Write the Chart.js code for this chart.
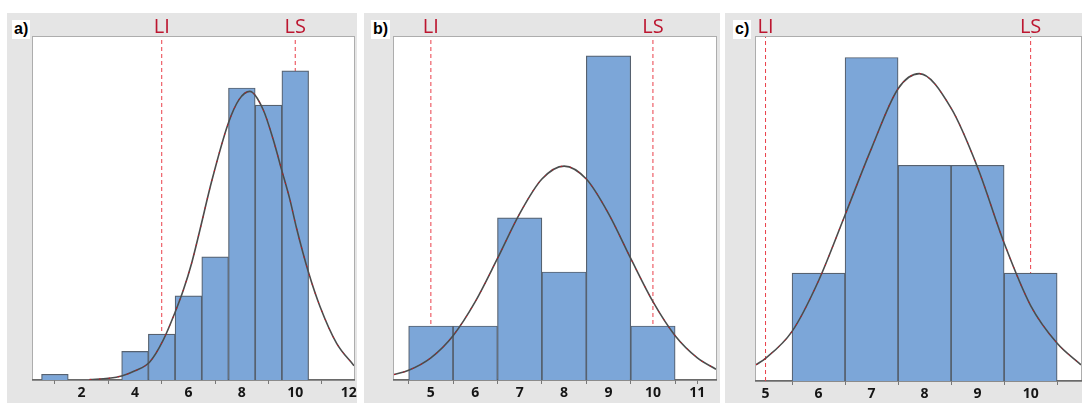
<!DOCTYPE html>
<html>
<head>
<meta charset="utf-8">
<script src="https://cdn.jsdelivr.net/npm/chart.js@4.4.0/dist/chart.umd.min.js"></script>
<style>
  body { margin:0; background:#fff; width:1082px; height:403px; position:relative; overflow:hidden; }
  .panel { position:absolute; top:13px; height:390px; background:#e5e5e5; }
  .panel canvas { position:absolute; left:0; top:0; }
  .tag { position:absolute; top:7px; height:19px; line-height:19px; padding:0 2px; background:#fff; color:#000;
         font:bold 16px "Liberation Sans", Arial, sans-serif; }
</style>
</head>
<body>
<div class="panel" style="left:7px;width:350px"><canvas id="chartA" width="350" height="390"></canvas><div class="tag" style="left:5px">a)</div></div>
<div class="panel" style="left:364px;width:356px"><canvas id="chartB" width="356" height="390"></canvas><div class="tag" style="left:7px">b)</div></div>
<div class="panel" style="left:725px;width:357px"><canvas id="chartC" width="357" height="390"></canvas><div class="tag" style="left:8px">c)</div></div>
<script>
// Spec limits (same for all three)
const specValues = [5, 10];
const specNames = ['LI', 'LS'];

// a) histogram + fitted curve
const binsA = [1, 2, 3, 4, 5, 6, 7, 8, 9, 10];
const countsA = [1, 0, 0, 5, 8, 14.7, 21.5, 51, 48, 54];
const fitXA = [2.3, 3.0, 3.5, 4.0, 4.56, 5.06, 5.49, 5.81, 6.12, 6.43, 6.87, 7.49, 7.9, 8.3, 8.8, 9.18, 9.49, 9.8, 10.05, 10.49, 10.93, 11.55, 12.2];
const fitYA = [0.07, 0.3, 0.7, 1.6, 3.2, 7.0, 11.7, 15.7, 20.4, 26.2, 34.7, 44.8, 49.0, 50.4, 47.2, 41.9, 36.7, 31.5, 26.5, 18.9, 12.8, 6.4, 2.5];
const labelsA = [2, 4, 6, 8, 10, 12];
const marksA = [1, 3, 5, 7, 9, 11];

// b)
const binsB = [5, 6, 7, 8, 9, 10];
const countsB = [1, 1, 3, 2, 6, 1];
const fitXB = [4.17, 4.5, 5, 5.5, 6, 6.5, 7, 7.5, 8, 8.5, 9, 9.5, 10, 10.5, 11, 11.42];
const fitYB = [0.1, 0.18, 0.41, 0.82, 1.45, 2.25, 3.08, 3.72, 3.96, 3.72, 3.08, 2.25, 1.45, 0.82, 0.41, 0.2];
const labelsB = [5, 6, 7, 8, 9, 10, 11];
const marksB = [4.5, 5.5, 6.5, 7.5, 8.5, 9.5, 10.5, 11];

// c)
const binsC = [6, 7, 8, 9, 10];
const countsC = [1, 3, 2, 2, 1];
const fitXC = [4.82, 5, 5.5, 6, 6.5, 7, 7.5, 7.9, 8.5, 9, 9.5, 10, 10.5, 10.95];
const fitYC = [0.15, 0.21, 0.46, 0.93, 1.54, 2.16, 2.71, 2.85, 2.53, 1.98, 1.28, 0.7, 0.35, 0.15];
const labelsC = [5, 6, 7, 8, 9, 10];
const marksC = [5.5, 6.5, 7.5, 8.5, 9.5, 10.5];

// white plot box + LI / LS captions
const frame = {
  id: 'frame',
  beforeDraw(chart) {
    const a = chart.chartArea, ctx = chart.ctx;
    ctx.save();
    ctx.fillStyle = '#fff';
    ctx.fillRect(a.left, a.top, a.right - a.left, a.bottom - a.top);
    ctx.strokeStyle = '#adadad';
    ctx.lineWidth = 1;
    ctx.strokeRect(a.left - 0.5, a.top - 0.5, a.right - a.left + 1, a.bottom - a.top + 1);
    ctx.restore();
  },
  afterDraw(chart) {
    const x = chart.scales.x, ctx = chart.ctx;
    ctx.save();
    ctx.fillStyle = '#bc1630';
    ctx.font = '20px "Open Sans"';
    ctx.textAlign = 'center';
    specValues.forEach(function(v, i) {
      ctx.fillText(specNames[i], x.getPixelForValue(v), chart.chartArea.top - 4);
    });
    ctx.restore();
  }
};

function makeHist(id, bins, counts, fitX, fitY, labels, marks, xMin, xMax, yMax, pad, axisH) {
  const fit = fitX.map(function(x, i) { return {x: x, y: fitY[i]}; });
  const bars = bins.map(function(x, i) { return {x: x, y: counts[i]}; });
  const tickVals = labels.concat(marks).sort(function(p, q) { return p - q; })
    .filter(function(v, i, arr) { return i === 0 || v !== arr[i - 1]; });

  const datasets = [
    {type: 'line', data: fit, borderColor: '#d01020', borderWidth: 1, borderDash: [1.5, 8],
     pointRadius: 0, cubicInterpolationMode: 'monotone', order: 0},
    {type: 'line', data: fit, borderColor: '#4c4c4c', borderWidth: 1.6,
     pointRadius: 0, cubicInterpolationMode: 'monotone', order: 1},
    {type: 'bar', data: bars, backgroundColor: '#7ca6d8', borderColor: '#56616f',
     borderWidth: 1.2, barThickness: 'flex', barPercentage: 1, categoryPercentage: 1, order: 2}
  ];
  specValues.forEach(function(v) {
    datasets.push({type: 'line', data: [{x: v, y: 0}, {x: v, y: yMax}], borderColor: '#ea3f4a',
      borderWidth: 1, borderDash: [4, 3], pointRadius: 0, order: 3});
  });

  return new Chart(document.getElementById(id), {
    data: {datasets: datasets},
    options: {
      responsive: false,
      animation: false,
      layout: {padding: {left: pad[0], top: 24, right: pad[1], bottom: 0}},
      plugins: {legend: {display: false}, tooltip: {enabled: false}},
      scales: {
        x: {
          type: 'linear', min: xMin, max: xMax, offset: false,
          afterBuildTicks: function(s) { s.ticks = tickVals.map(function(v) { return {value: v}; }); },
          afterFit: function(s) { s.height = axisH; s.paddingLeft = 0; s.paddingRight = 0; },
          ticks: {
            autoSkip: false, maxRotation: 0, padding: 1, color: '#151515',
            font: {family: 'Open Sans', size: 14, weight: '700'},
            callback: function(v) { return labels.indexOf(v) >= 0 ? String(v) : ''; }
          },
          grid: {
            offset: false, drawOnChartArea: false, tickLength: 4,
            tickColor: function(c) { return c.tick && marks.indexOf(c.tick.value) >= 0 ? '#777' : 'rgba(0,0,0,0)'; }
          },
          border: {color: '#6a6a6a', width: 1.5}
        },
        y: {display: false, min: 0, max: yMax}
      }
    },
    plugins: [frame]
  });
}

makeHist('chartA', binsA, countsA, fitXA, fitYA, labelsA, marksA, 0.18, 12.2, 59.9, [26, 3], 23);
makeHist('chartB', binsB, countsB, fitXB, fitYB, labelsB, marksB, 4.17, 11.42, 6.35, [30, 4], 23);
makeHist('chartC', binsC, countsC, fitXC, fitYC, labelsC, marksC, 4.82, 10.95, 3.19, [31, 1], 22);
</script>
</body>
</html>
